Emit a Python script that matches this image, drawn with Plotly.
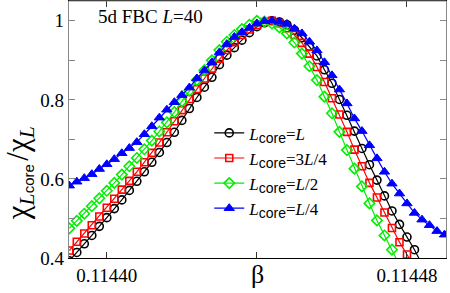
import plotly.graph_objects as go

beta = [0.114390, 0.114392, 0.114394, 0.114396, 0.114398, 0.114400, 0.114402, 0.114404,
        0.114406, 0.114408, 0.114410, 0.114412, 0.114414, 0.114416, 0.114418, 0.114420,
        0.114422, 0.114424, 0.114426, 0.114428, 0.114430, 0.114432, 0.114434, 0.114436,
        0.114438, 0.114440, 0.114442, 0.114444, 0.114446, 0.114448, 0.114450, 0.114452,
        0.114454, 0.114456, 0.114458, 0.114460, 0.114462, 0.114464, 0.114466, 0.114468,
        0.114470, 0.114472, 0.114474, 0.114476, 0.114478, 0.114480, 0.114482, 0.114484,
        0.114486, 0.114488, 0.114490]

chi_L = [0.393, 0.414, 0.436, 0.457, 0.480, 0.502, 0.525, 0.547, 0.571, 0.594,
         0.618, 0.642, 0.667, 0.692, 0.718, 0.748, 0.778, 0.806, 0.832, 0.857,
         0.889, 0.913, 0.932, 0.951, 0.970, 0.985, 0.995, 1.000, 0.997, 0.990,
         0.976, 0.957, 0.935, 0.911, 0.876, 0.842, 0.801, 0.761, 0.721, 0.677,
         0.636, 0.597, 0.557, 0.519, 0.485, 0.453, 0.421, 0.384]

chi_3L4 = [0.419, 0.441, 0.462, 0.483, 0.505, 0.527, 0.550, 0.573, 0.595, 0.618,
           0.642, 0.666, 0.692, 0.718, 0.746, 0.774, 0.802, 0.827, 0.854, 0.879,
           0.904, 0.926, 0.946, 0.964, 0.978, 0.989, 0.997, 1.000, 0.994, 0.981,
           0.964, 0.944, 0.917, 0.883, 0.845, 0.804, 0.763, 0.719, 0.674, 0.632,
           0.590, 0.553, 0.515, 0.476, 0.440, 0.409, 0.376]

chi_L2 = [0.475, 0.494, 0.512, 0.531, 0.551, 0.570, 0.590, 0.611, 0.632, 0.653,
          0.675, 0.697, 0.720, 0.743, 0.769, 0.796, 0.823, 0.850, 0.875, 0.900,
          0.926, 0.947, 0.964, 0.979, 0.990, 1.000, 0.998, 0.993, 0.983, 0.968,
          0.945, 0.917, 0.885, 0.850, 0.808, 0.766, 0.719, 0.673, 0.626, 0.581,
          0.538, 0.495, 0.457, 0.421, 0.382]

chi_L4 = [0.583, 0.593, 0.602, 0.612, 0.625, 0.637, 0.650, 0.665, 0.678, 0.693,
          0.713, 0.733, 0.755, 0.775, 0.794, 0.812, 0.831, 0.854, 0.874, 0.895,
          0.920, 0.941, 0.959, 0.971, 0.982, 0.993, 0.999, 1.000, 0.997, 0.992,
          0.980, 0.968, 0.947, 0.925, 0.895, 0.862, 0.826, 0.791, 0.753, 0.721,
          0.685, 0.652, 0.618, 0.588, 0.563, 0.538, 0.514, 0.497, 0.483, 0.468,
          0.459]

x_tickvals = [0.11440, 0.11448]
x_ticktext = ["0.11440", "0.11448"]
y_tickvals = [0.4, 0.6, 0.8, 1.0]
y_ticktext = ["0.4", "0.6", "0.8", "1"]

serif = "Liberation Serif, Times New Roman, serif"
SUB = "<span style='font-family:Liberation Sans, Arial;font-size:14px'>core</span>"
series = [
    (chi_L, "<i>L</i><sub>" + SUB + "</sub>=<i>L</i>", "black", "circle-open", 8, 1.6),
    (chi_3L4, "<i>L</i><sub>" + SUB + "</sub>=3<i>L</i>/4", "red", "square-open", 7, 1.6),
    (chi_L2, "<i>L</i><sub>" + SUB + "</sub>=<i>L</i>/2", "#00ee00", "diamond-open", 8, 1.6),
    (chi_L4, "<i>L</i><sub>" + SUB + "</sub>=<i>L</i>/4", "blue", "triangle-up", 9, 1.0),
]

fig = go.Figure()
for vals, name, color, sym, size, lw in series:
    fig.add_trace(go.Scatter(
        x=beta[:len(vals)], y=vals, mode="lines+markers", name=name,
        line=dict(color=color, width=1.2),
        marker=dict(symbol=sym, size=size, color=color, line=dict(color=color, width=lw)),
    ))

fig.update_layout(
    template=None,
    width=450, height=293,
    margin=dict(l=69, r=4, t=1, b=35, pad=0, autoexpand=False),
    paper_bgcolor="white", plot_bgcolor="white",
    font=dict(family=serif, size=19, color="black"),
    showlegend=True,
    legend=dict(x=0.372, y=0.555, xanchor="left", yanchor="top",
                bgcolor="rgba(0,0,0,0)", font=dict(family=serif, size=17),
                itemwidth=30, tracegroupgap=0),
    xaxis=dict(range=[0.11438992, 0.1144904], tickvals=x_tickvals, ticktext=x_ticktext,
               ticks="inside", ticklen=6, tickcolor="#333", showline=True,
               linecolor="black", linewidth=1.2, mirror="ticks", showgrid=False,
               zeroline=False, tickfont=dict(size=19), automargin=False,
               minor=dict(tickvals=[0.11444], ticks="inside", ticklen=6, tickcolor="#333")),
    yaxis=dict(range=[0.4, 1.05], tickvals=y_tickvals, ticktext=y_ticktext,
               ticks="inside", ticklen=6, tickcolor="#888", showline=True,
               linecolor="#888", linewidth=1.2, mirror="ticks", showgrid=False,
               zeroline=False, tickfont=dict(size=19), automargin=False,
               minor=dict(tickvals=[0.5, 0.7, 0.9], ticks="inside", ticklen=6, tickcolor="#888")),
    annotations=[
        dict(text="5d FBC <i>L</i>=40", x=0.072, y=0.99, xref="paper", yref="paper",
             xanchor="left", yanchor="top", showarrow=False,
             font=dict(family=serif, size=19)),
        dict(text="β", x=0.501, y=-0.066, xref="paper", yref="paper",
             xanchor="center", yanchor="middle", showarrow=False,
             font=dict(family=serif, size=26)),
        dict(text="χ<sub><i>L</i><span style='font-family:Liberation Sans, Arial;font-size:15px'>core</span></sub>"
                  "<span style='font-size:14px'> </span>/χ<sub><i>L</i></sub>",
             x=-0.13, y=0.33, xref="paper", yref="paper", textangle=-90,
             xanchor="center", yanchor="middle", showarrow=False,
             font=dict(family=serif, size=31)),
    ],
    shapes=[dict(type="line", xref="paper", yref="paper", x0=0, x1=1, y0=1, y1=1,
                 line=dict(color="#888", width=1.2))],
)

fig.write_html("out.html", config={"displayModeBar": False},
               post_script="document.body.style.margin='0';document.body.style.overflow='hidden';")
